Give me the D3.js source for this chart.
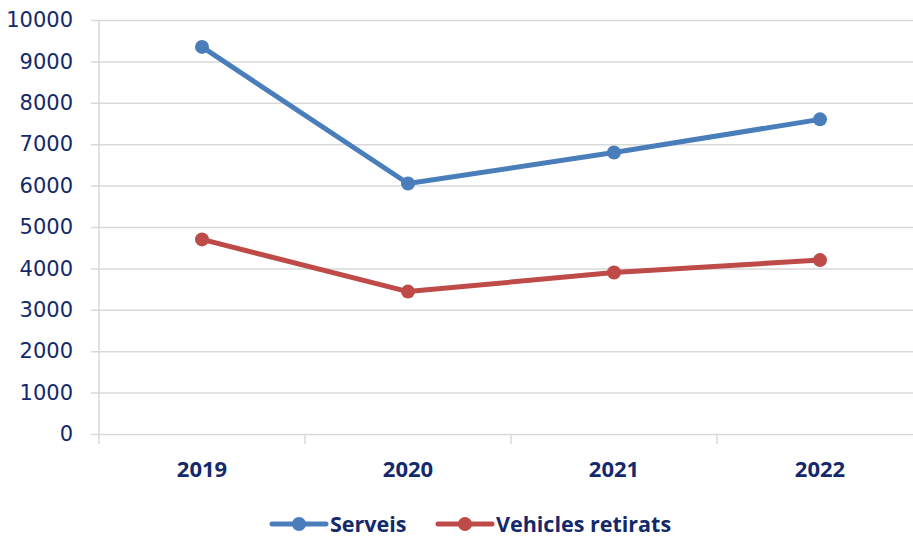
<!DOCTYPE html>
<html>
<head>
<meta charset="utf-8">
<script src="https://cdn.jsdelivr.net/npm/d3@7"></script>
<style>
  html, body { margin: 0; padding: 0; background: #fff; }
  svg { display: block; }
</style>
</head>
<body>
<svg id="chart" width="913" height="537"></svg>
<script>
// Yearly figures for municipal tow service
const years = ["2019", "2020", "2021", "2022"];
const serveis = [9350, 6050, 6800, 7600];
const vehiclesRetirats = [4700, 3440, 3900, 4200];
const yTicks = [0, 1000, 2000, 3000, 4000, 5000, 6000, 7000, 8000, 9000, 10000];
const seriesNames = ["Serveis", "Vehicles retirats"];
const seriesColors = ["#4a7ebb", "#be4b48"];

(function () {
  const svg = d3.select("#chart");
  const textColor = "#13296b";
  const plotLeft = 99, plotRight = 923, plotTop = 20, plotBottom = 434;

  const x = d3.scaleBand().domain(years).range([plotLeft, plotRight]).padding(0);
  const y = d3.scaleLinear().domain([0, 10000]).range([plotBottom, plotTop]);

  // Horizontal gridlines with short outside ticks
  const yAxis = d3.axisLeft(y).tickValues(yTicks).tickFormat(d3.format("d"))
    .tickSizeOuter(0).tickPadding(20);
  const gy = svg.append("g").attr("transform", `translate(${plotLeft},0)`).call(yAxis);
  gy.select(".domain").remove();
  gy.selectAll(".tick line")
    .attr("x1", -8).attr("x2", 913 - plotLeft)
    .attr("stroke", "#d9d9d9").attr("stroke-width", 1.5);
  gy.selectAll(".tick text")
    .attr("fill", textColor)
    .attr("font-family", "'DejaVu Sans', sans-serif")
    .attr("font-size", 21);

  // Vertical value-axis line
  svg.append("line")
    .attr("x1", plotLeft).attr("x2", plotLeft).attr("y1", plotTop).attr("y2", plotBottom)
    .attr("stroke", "#d9d9d9").attr("stroke-width", 1.5);

  // Category axis with tick marks between categories
  const gx = svg.append("g").attr("transform", `translate(0,${plotBottom})`)
    .call(d3.axisBottom(x).tickSize(0).tickPadding(27));
  gx.select(".domain").remove();
  gx.selectAll(".tick text")
    .attr("fill", textColor)
    .attr("font-family", "'Open Sans', sans-serif")
    .attr("font-weight", "bold")
    .attr("font-size", 22);
  const boundaries = years.map(d => x(d)).concat([x(years[years.length - 1]) + x.bandwidth()]);
  svg.append("g").selectAll("line").data(boundaries).join("line")
    .attr("x1", d => d).attr("x2", d => d)
    .attr("y1", plotBottom).attr("y2", plotBottom + 10)
    .attr("stroke", "#d9d9d9").attr("stroke-width", 1.5);

  // Series lines and markers
  const seriesData = [serveis, vehiclesRetirats];
  const cx = (d, i) => x(years[i]) + x.bandwidth() / 2;
  const line = d3.line().x(cx).y(d => y(d));
  seriesData.forEach((vals, s) => {
    const g = svg.append("g");
    g.append("path").datum(vals)
      .attr("d", line)
      .attr("fill", "none")
      .attr("stroke", seriesColors[s])
      .attr("stroke-width", 5)
      .attr("stroke-linejoin", "round")
      .attr("stroke-linecap", "round");
    g.selectAll("circle").data(vals).join("circle")
      .attr("cx", cx)
      .attr("cy", d => y(d))
      .attr("r", 7)
      .attr("fill", seriesColors[s]);
  });

  // Legend
  const legendX = [272, 438];
  legendX.forEach((lx, i) => {
    const g = svg.append("g").attr("transform", `translate(${lx},524)`);
    g.append("line").attr("x1", 0).attr("x2", 54).attr("y1", 0).attr("y2", 0)
      .attr("stroke", seriesColors[i]).attr("stroke-width", 5).attr("stroke-linecap", "round");
    g.append("circle").attr("cx", 27).attr("cy", 0).attr("r", 7).attr("fill", seriesColors[i]);
    g.append("text").attr("x", 58).attr("y", 0).attr("dy", "0.35em")
      .attr("fill", textColor)
      .attr("font-family", "'Open Sans', sans-serif")
      .attr("font-weight", "bold")
      .attr("font-size", 21.5)
      .text(seriesNames[i]);
  });
})();
</script>
</body>
</html>
